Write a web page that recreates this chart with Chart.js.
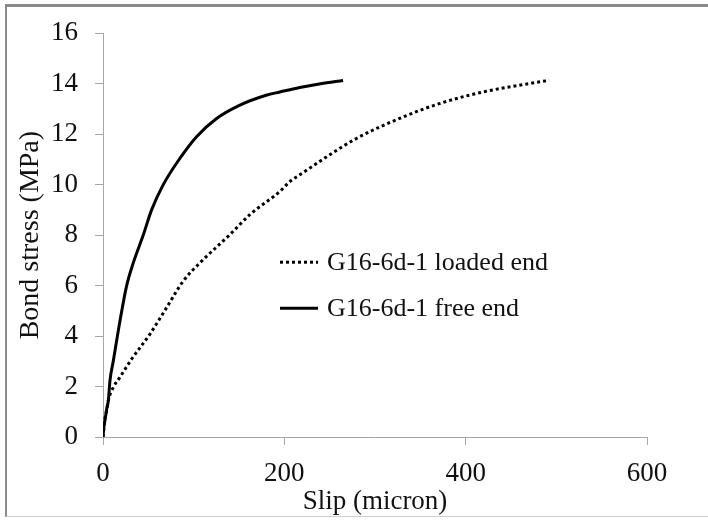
<!DOCTYPE html>
<html>

<head>
  <title>Bond stress vs slip</title>
  <script src="https://cdn.jsdelivr.net/npm/chart.js@4.4.0/dist/chart.umd.min.js"></script>

  <style>
    html, body {
      margin: 0;
      padding: 0;
      background-color: white;
      font-family: 'Liberation Serif', 'Times New Roman', serif;
    }

    .frame {
      position: absolute;
      left: 5px;
      top: 4px;
      width: 703px;
      height: 513px;
      border-top: 3px solid #8a8a8a;
      border-left: 2px solid #8a8a8a;
      border-bottom: 1px solid #d0d0d0;
      box-sizing: border-box;
      pointer-events: none;
    }

    .chart-container {
      position: absolute;
      left: 0;
      top: 0;
      width: 708px;
      height: 520px;
    }
  </style>
</head>

<body>
  <div class="chart-container">
    <canvas id="slipChart" width="708" height="520"></canvas>
  </div>
  <div class="frame"></div>

  <script>
    // data (slip in micron, stress in MPa)
    const freeX = [0, 1, 2.2, 4, 5.9, 7.7, 11.4, 18.7, 26.1, 33.4, 44.4, 53.6, 66.5, 84.8, 103.2, 125.3, 151, 180, 195, 217, 240, 264.8];
    const freeY = [0, 0.4, 0.66, 1.1, 1.45, 2.24, 3.02, 4.6, 6.0, 6.9, 8.0, 9.0, 10.0, 11.04, 11.9, 12.62, 13.15, 13.54, 13.67, 13.85, 14.0, 14.13];

    const loadedX = [0, 2, 4, 5.9, 11.4, 18.7, 31.6, 51.8, 70.2, 88.5, 106.9, 140, 162, 195, 206, 217, 279.6, 331, 371, 419, 485, 492];
    const loadedY = [0, 0.7, 1.05, 1.45, 1.97, 2.37, 3.09, 4.08, 5.13, 6.18, 6.9, 8.02, 8.81, 9.73, 10.12, 10.39, 11.83, 12.68, 13.21, 13.67, 14.09, 14.13];

    const xTicks = [0, 200, 400, 600];
    const yTicks = [0, 2, 4, 6, 8, 10, 12, 14, 16];

    const seriesNames = ['G16-6d-1 loaded end', 'G16-6d-1 free end'];

    const serif = "'Liberation Serif', 'Times New Roman', serif";

    function toPoints(xs, ys) {
      return xs.map((x, i) => ({ x: x, y: ys[i] }));
    }

    // legend drawn inside the plot area
    const innerLegend = {
      id: 'innerLegend',
      afterDraw(chart) {
        const ctx = chart.ctx;
        const area = chart.chartArea;
        const x0 = area.left + 177;
        const rows = [area.top + 229, area.top + 275];
        ctx.save();
        ctx.font = '26px ' + serif;
        ctx.textBaseline = 'middle';
        chart.data.datasets.forEach((ds, i) => {
          const y = rows[i];
          ctx.beginPath();
          ctx.strokeStyle = ds.borderColor;
          ctx.lineWidth = ds.borderWidth;
          ctx.setLineDash(ds.borderDash || []);
          ctx.moveTo(x0, y);
          ctx.lineTo(x0 + 38, y);
          ctx.stroke();
          ctx.setLineDash([]);
          ctx.fillStyle = '#111';
          ctx.fillText(ds.label, x0 + 47, y + 1);
        });
        ctx.restore();
      }
    };

    function drawChart() {
      const ctx = document.getElementById('slipChart').getContext('2d');

      new Chart(ctx, {
        type: 'scatter',
        data: {
          datasets: [
            {
              label: seriesNames[0],
              data: toPoints(loadedX, loadedY),
              showLine: true,
              borderColor: '#000',
              borderWidth: 3,
              borderDash: [3, 3],
              borderCapStyle: 'butt',
              pointRadius: 0,
              cubicInterpolationMode: 'monotone',
              fill: false
            },
            {
              label: seriesNames[1],
              data: toPoints(freeX, freeY),
              showLine: true,
              borderColor: '#000',
              borderWidth: 3,
              pointRadius: 0,
              cubicInterpolationMode: 'monotone',
              fill: false
            }
          ]
        },
        options: {
          responsive: false,
          animation: false,
          layout: {
            padding: { left: 0, right: 61, top: 31, bottom: 0 }
          },
          plugins: {
            legend: { display: false },
            tooltip: { enabled: false }
          },
          scales: {
            x: {
              type: 'linear',
              min: 0,
              max: 600,
              afterBuildTicks: (scale) => { scale.ticks = xTicks.map(v => ({ value: v })); },
              afterFit: (scale) => { scale.height = 83; },
              border: { display: true, color: '#a6a6a6', width: 1 },
              grid: {
                display: true,
                drawOnChartArea: false,
                drawTicks: true,
                tickLength: 8,
                color: '#a6a6a6'
              },
              ticks: {
                color: '#111',
                padding: 13,
                font: { family: serif, size: 27 }
              },
              title: {
                display: true,
                text: 'Slip (micron)',
                color: '#111',
                padding: { top: 0, bottom: 2 },
                font: { family: serif, size: 27 }
              }
            },
            y: {
              min: 0,
              max: 16,
              afterBuildTicks: (scale) => { scale.ticks = yTicks.map(v => ({ value: v })); },
              afterFit: (scale) => { scale.width = 103; },
              border: { display: true, color: '#a6a6a6', width: 1 },
              grid: {
                display: true,
                drawOnChartArea: false,
                drawTicks: true,
                tickLength: 8,
                color: '#a6a6a6'
              },
              ticks: {
                color: '#111',
                padding: 17,
                font: { family: serif, size: 27 }
              },
              title: {
                display: true,
                text: 'Bond stress (MPa)',
                color: '#111',
                padding: { top: 14, bottom: 0 },
                font: { family: serif, size: 28 }
              }
            }
          }
        },
        plugins: [innerLegend]
      });
    }

    if (document.fonts && document.fonts.load) {
      document.fonts.load("27px 'Liberation Serif'").then(drawChart, drawChart);
    } else {
      drawChart();
    }
  </script>
</body>

</html>
